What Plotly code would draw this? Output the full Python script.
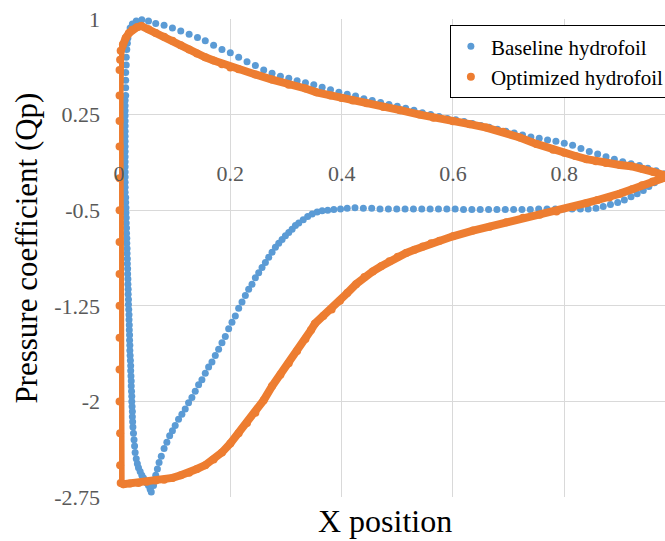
import plotly.graph_objects as go

# Baseline hydrofoil: upper (pressure-peak) surface from trailing edge to leading edge
base_upper_x = [0.995, 0.98, 0.965, 0.95, 0.935, 0.92, 0.905, 0.89, 0.875, 0.86, 0.845, 0.83,
                0.815, 0.80, 0.785, 0.77, 0.755, 0.74, 0.725, 0.71, 0.695, 0.68, 0.665, 0.65,
                0.635, 0.62, 0.605, 0.59, 0.575, 0.56, 0.545, 0.53, 0.515, 0.50, 0.485, 0.47,
                0.455, 0.44, 0.425, 0.41, 0.395, 0.38, 0.365, 0.35, 0.335, 0.32, 0.305, 0.29,
                0.275, 0.26, 0.245, 0.23, 0.215, 0.20, 0.185, 0.17, 0.155, 0.141, 0.126, 0.111,
                0.096, 0.081, 0.066, 0.053, 0.041, 0.031, 0.024, 0.020, 0.018, 0.016, 0.015,
                0.014, 0.013, 0.013, 0.012, 0.012, 0.012, 0.012]
base_upper_y = [-0.215, -0.215, -0.19, -0.17, -0.15, -0.135, -0.12, -0.10, -0.08, -0.06, -0.04, -0.015,
                0.01, 0.025, 0.04, 0.05, 0.065, 0.075, 0.09, 0.105, 0.12, 0.135, 0.15, 0.165,
                0.18, 0.195, 0.21, 0.22, 0.235, 0.25, 0.265, 0.285, 0.30, 0.315, 0.33, 0.345,
                0.36, 0.375, 0.395, 0.41, 0.425, 0.445, 0.465, 0.485, 0.50, 0.515, 0.535, 0.55,
                0.575, 0.60, 0.635, 0.665, 0.70, 0.735, 0.76, 0.795, 0.83, 0.855, 0.88, 0.905,
                0.93, 0.95, 0.965, 0.985, 0.995, 0.985, 0.96, 0.93, 0.89, 0.85, 0.81,
                0.76, 0.70, 0.64, 0.58, 0.52, 0.46, 0.40]

# Baseline hydrofoil: leading-edge suction spike
base_le_x = [0.011, 0.011, 0.011, 0.011, 0.011, 0.011, 0.011, 0.011, 0.011, 0.011,
             0.011, 0.011, 0.011, 0.011, 0.011, 0.011, 0.011, 0.011, 0.011, 0.012,
             0.012, 0.0125, 0.0125, 0.013, 0.013, 0.0135, 0.0135, 0.014, 0.014, 0.0145,
             0.0145, 0.015, 0.015, 0.0155, 0.0155, 0.016, 0.016, 0.0165, 0.0165, 0.017,
             0.017, 0.0175, 0.018, 0.018, 0.0185, 0.0185, 0.019, 0.019, 0.0195, 0.0195,
             0.020, 0.0205, 0.021, 0.021, 0.0215, 0.022, 0.022, 0.0225, 0.023, 0.023,
             0.0235, 0.024, 0.024, 0.0245, 0.025, 0.026, 0.027, 0.028, 0.029, 0.031,
             0.033, 0.035, 0.038, 0.041, 0.044, 0.047, 0.050, 0.053, 0.056, 0.058]
base_le_y = [0.36, 0.32, 0.28, 0.24, 0.20, 0.16, 0.12, 0.08, 0.04, 0.00,
             -0.04, -0.08, -0.12, -0.16, -0.20, -0.24, -0.28, -0.32, -0.36, -0.40,
             -0.44, -0.48, -0.52, -0.56, -0.60, -0.64, -0.68, -0.72, -0.76, -0.80,
             -0.84, -0.88, -0.92, -0.96, -1.00, -1.04, -1.08, -1.12, -1.16, -1.20,
             -1.24, -1.28, -1.32, -1.36, -1.40, -1.44, -1.48, -1.52, -1.56, -1.60,
             -1.64, -1.68, -1.72, -1.76, -1.80, -1.84, -1.88, -1.92, -1.96, -2.00,
             -2.04, -2.08, -2.12, -2.16, -2.20, -2.25, -2.30, -2.35, -2.40, -2.45,
             -2.49, -2.52, -2.55, -2.58, -2.60, -2.62, -2.64, -2.66, -2.69, -2.71]

# Baseline hydrofoil: lower surface from the suction peak to the trailing edge
base_lower_x = [0.062, 0.064, 0.066, 0.069, 0.072, 0.076, 0.081, 0.086, 0.091, 0.096, 0.101, 0.107,
                0.113, 0.119, 0.125, 0.131, 0.137, 0.143, 0.149, 0.155, 0.161, 0.167, 0.173,
                0.179, 0.185, 0.191, 0.197, 0.203, 0.209, 0.215, 0.221, 0.227, 0.233, 0.239,
                0.245, 0.251, 0.257, 0.263, 0.269, 0.275, 0.281, 0.287, 0.293, 0.299, 0.305,
                0.311, 0.317, 0.323, 0.331, 0.339, 0.347, 0.356, 0.365, 0.375, 0.386, 0.398,
                0.410, 0.424, 0.439, 0.454, 0.469, 0.484, 0.499, 0.514, 0.529, 0.544, 0.559,
                0.574, 0.589, 0.604, 0.619, 0.634, 0.649, 0.664, 0.679, 0.694, 0.709, 0.724,
                0.739, 0.754, 0.769, 0.784, 0.799, 0.814, 0.829, 0.843, 0.857, 0.870, 0.883,
                0.896, 0.908, 0.920, 0.931, 0.942, 0.952, 0.962, 0.972, 0.982, 0.992, 1.0]
base_lower_y = [-2.66, -2.62, -2.58, -2.53, -2.48, -2.43, -2.37, -2.32, -2.27, -2.23, -2.19, -2.14,
                -2.10, -2.06, -2.01, -1.97, -1.92, -1.87, -1.83, -1.78, -1.73, -1.69, -1.64,
                -1.59, -1.54, -1.49, -1.43, -1.38, -1.33, -1.27, -1.22, -1.17, -1.12, -1.08,
                -1.03, -0.99, -0.95, -0.91, -0.87, -0.83, -0.79, -0.76, -0.73, -0.70, -0.675,
                -0.65, -0.62, -0.60, -0.575, -0.55, -0.53, -0.515, -0.505, -0.50, -0.495, -0.49,
                -0.485, -0.48, -0.485, -0.485, -0.49, -0.49, -0.49, -0.49, -0.49, -0.49, -0.49,
                -0.49, -0.49, -0.49, -0.495, -0.495, -0.495, -0.495, -0.495, -0.495, -0.495, -0.495,
                -0.495, -0.49, -0.49, -0.49, -0.49, -0.49, -0.49, -0.49, -0.485, -0.47, -0.455,
                -0.44, -0.42, -0.395, -0.37, -0.345, -0.315, -0.285, -0.26, -0.235, -0.22, -0.21]

# Optimized hydrofoil: closed Cp loop (upper surface TE->LE, then lower surface LE->TE)
opt_x = [1.0, 0.98, 0.96, 0.94, 0.92, 0.90, 0.875, 0.857, 0.84, 0.82, 0.80, 0.78, 0.75, 0.72,
         0.69, 0.66, 0.63, 0.60, 0.565, 0.54, 0.505, 0.475, 0.445, 0.42, 0.40, 0.38, 0.355,
         0.335, 0.305, 0.275, 0.245, 0.215, 0.20, 0.185, 0.17, 0.155, 0.14, 0.126, 0.111,
         0.096, 0.081, 0.066, 0.053, 0.040, 0.032, 0.024, 0.018, 0.012, 0.007, 0.003, 0.002,
         0.001, 0.001, 0.001, 0.001, 0.001, 0.001, 0.001, 0.001, 0.001, 0.001, 0.001, 0.001,
         0.002, 0.002, 0.003, 0.008, 0.02, 0.035, 0.05, 0.066, 0.081, 0.096, 0.111, 0.126,
         0.14, 0.155, 0.17, 0.185, 0.20, 0.215, 0.23, 0.245, 0.26, 0.275, 0.29, 0.305, 0.32,
         0.335, 0.345, 0.352, 0.367, 0.382, 0.397, 0.41, 0.426, 0.441, 0.456, 0.471, 0.486,
         0.501, 0.516, 0.531, 0.546, 0.561, 0.576, 0.60, 0.636, 0.666, 0.696, 0.726, 0.756,
         0.786, 0.816, 0.839, 0.86, 0.881, 0.90, 0.922, 0.94, 0.959, 0.98, 1.0]
opt_y = [-0.215, -0.225, -0.20, -0.175, -0.155, -0.145, -0.13, -0.115, -0.10, -0.075, -0.05,
         -0.025, 0.02, 0.07, 0.115, 0.148, 0.175, 0.197, 0.225, 0.25, 0.285, 0.31, 0.34, 0.36,
         0.38, 0.40, 0.425, 0.455, 0.485, 0.525, 0.565, 0.605, 0.62, 0.645, 0.675, 0.70, 0.73,
         0.76, 0.795, 0.83, 0.86, 0.89, 0.92, 0.945, 0.935, 0.915, 0.89, 0.85, 0.80, 0.75,
         0.68, 0.60, 0.40, 0.20, 0.0, -0.25, -0.50, -0.75, -1.0, -1.25, -1.50, -1.75, -2.0,
         -2.25, -2.50, -2.64, -2.65, -2.645, -2.64, -2.63, -2.62, -2.615, -2.60, -2.58, -2.56,
         -2.53, -2.50, -2.455, -2.40, -2.33, -2.25, -2.17, -2.09, -1.99, -1.88, -1.79, -1.70,
         -1.605, -1.51, -1.44, -1.39, -1.33, -1.28, -1.21, -1.15, -1.08, -1.025, -0.98, -0.94,
         -0.90, -0.865, -0.835, -0.81, -0.785, -0.76, -0.74, -0.705, -0.66, -0.63, -0.595,
         -0.56, -0.535, -0.51, -0.475, -0.445, -0.42, -0.40, -0.37, -0.335, -0.305, -0.275,
         -0.245, -0.215]

x_ticks = [0, 0.2, 0.4, 0.6, 0.8, 1]
x_tick_text = ["0", "0.2", "0.4", "0.6", "0.8", "1"]
y_ticks = [1, 0.25, -0.5, -1.25, -2, -2.75]
y_tick_text = ["1", "0.25", "-0.5", "-1.25", "-2", "-2.75"]

BLUE = "#5B9BD5"
ORANGE = "#ED7D31"
SERIF = "Liberation Serif"
TICK_GREY = "#595959"

base_x = base_upper_x + base_le_x + base_lower_x
base_y = base_upper_y + base_le_y + base_lower_y

fig = go.Figure()
fig.add_trace(go.Scatter(
    x=base_x, y=base_y, mode="markers", name="Baseline hydrofoil",
    marker=dict(color=BLUE, size=7, line=dict(width=0)),
    cliponaxis=False,
))
# dense marker series rendered as a thick marker-capped band
fig.add_trace(go.Scatter(
    x=opt_x, y=opt_y, mode="lines+markers", name="Optimized hydrofoil",
    line=dict(color=ORANGE, width=8),
    marker=dict(color=ORANGE, size=8, line=dict(width=0)),
    cliponaxis=False, showlegend=False,
))
# legend entry for the optimized series (marker only)
fig.add_trace(go.Scatter(
    x=[None], y=[None], mode="markers", name="Optimized hydrofoil",
    marker=dict(color=ORANGE, size=8, line=dict(width=0)),
))

fig.update_layout(
    width=665, height=541,
    margin=dict(l=119, r=0, t=19, b=44, pad=0, autoexpand=False),
    paper_bgcolor="white", plot_bgcolor="white",
    font=dict(family=SERIF, color=TICK_GREY, size=22),
    xaxis=dict(
        range=[0, 0.981], tickvals=x_ticks, ticktext=x_tick_text,
        showgrid=True, gridcolor="#D9D9D9", gridwidth=1,
        zeroline=False, showline=False, ticks="",
        anchor="free", position=2.75 / 3.75, side="bottom",
        ticklabelstandoff=12,
        tickfont=dict(family=SERIF, size=22, color=TICK_GREY),
    ),
    yaxis=dict(
        range=[-2.75, 1], tickvals=y_ticks, ticktext=y_tick_text,
        showgrid=True, gridcolor="#D9D9D9", gridwidth=1,
        zeroline=False, showline=False, ticks="",
        ticklabelstandoff=18,
        tickfont=dict(family=SERIF, size=22, color=TICK_GREY),
    ),
    legend=dict(
        x=0.606, y=0.987, xanchor="left", yanchor="top",
        bgcolor="white", bordercolor="black", borderwidth=1,
        font=dict(family=SERIF, size=21, color="black"),
    ),
    annotations=[
        dict(text="X position", xref="paper", yref="paper", x=0.488, y=-0.05,
             xanchor="center", yanchor="middle", showarrow=False,
             font=dict(family=SERIF, size=32, color="black")),
        dict(text="Pressure coefficient (Qp)", xref="paper", yref="paper",
             x=-0.17, y=0.52, xanchor="center", yanchor="middle", textangle=-90,
             showarrow=False, font=dict(family=SERIF, size=31, color="black")),
    ],
)

fig.write_html("out.html")
